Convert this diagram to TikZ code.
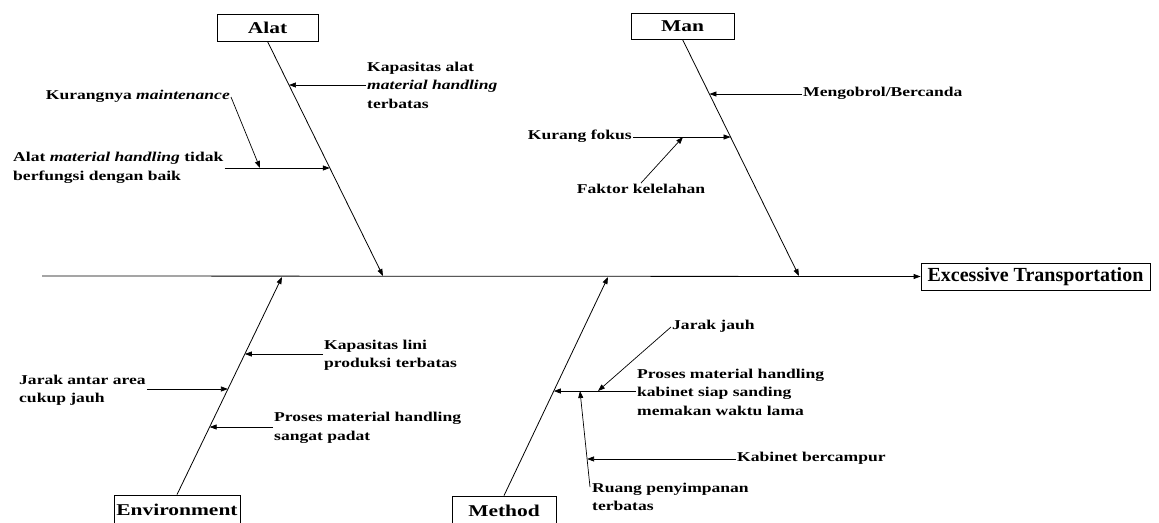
\documentclass[tikz,border=0pt]{standalone}
\usepackage{fontspec}
\setmainfont{Liberation Serif}
\newfontfamily\fishfont{Liberation Serif}[FakeStretch=1.3]
\usetikzlibrary{arrows.meta,calc}
\tikzset{
  fish/box/.style={
    draw,
    line width=0.8pt,
    inner sep=0pt,
    align=center,
    font=\fishfont\bfseries\fontsize{16.5}{19}\selectfont
  },
  fish/head/.style={
    draw,
    line width=0.8pt,
    minimum width=229pt,
    minimum height=27pt,
    inner sep=0pt,
    font=\bfseries\fontsize{20}{22}\selectfont
  },
  fish/label/.style={
    align=left,
    inner sep=1pt,
    font=\fishfont\bfseries\fontsize{13.5}{18.5}\selectfont
  },
  fish/bone/.style={-{Triangle[length=7pt,width=5pt]}, line width=0.8pt},
  fish/arrow/.style={-{Triangle[length=7pt,width=5pt]}, line width=0.7pt}
}

\begin{document}
\begin{tikzpicture}[x=1pt,y=-1pt]
  \useasboundingbox (0,0) rectangle (1159,522);
  % category boxes and effect
  \node[fish/box,minimum width=101pt,minimum height=27pt] (alat) at (267.5,27.5) {Alat};
  \node[fish/box,minimum width=103pt,minimum height=26pt] (man) at (682.5,26) {Man};
  \node[fish/box,minimum width=126pt,minimum height=30pt] (env) at (177,510) {Environment};
  \node[fish/box,minimum width=104pt,minimum height=30pt] (method) at (504,511) {Method};
  \node[fish/head] (exc) at (1035.5,276.5) {Excessive Transportation};
  % spine and bones
  \coordinate (tail) at (42,276);
  \coordinate (sA) at (383,276);
  \coordinate (sM) at (799,276);
  \coordinate (sE) at (282,277);
  \coordinate (sMe) at (608,277);
  \draw[fish/bone] (tail) -- (exc.west);
  \draw[fish/bone] (alat.south) -- (sA);
  \draw[fish/bone] (man.south) -- (sM);
  \draw[fish/bone] (env.north) -- (sE);
  \draw[fish/bone] (method.north) -- (sMe);
  % Alat
  \node[fish/label,anchor=west] (kapAlat) at (366,85) {Kapasitas alat\\\textit{material handling}\\terbatas};
  \node[fish/label,anchor=mid east] (kurMaint) at (231,97) {Kurangnya \textit{maintenance}};
  \node[fish/label,anchor=west] (alatFungsi) at (12,168) {Alat \textit{material handling} tidak\\berfungsi dengan baik};
  \coordinate (a1) at (intersection of alat.south--sA and 0,85--10,85);
  \coordinate (a2) at (intersection of alat.south--sA and 0,168--10,168);
  \coordinate (m1) at (260,168);
  \draw[fish/arrow] (a1 -| kapAlat.west) -- (a1);
  \draw[fish/arrow] (a2 -| alatFungsi.east) -- (a2);
  \draw[fish/arrow] (kurMaint.mid east) -- (m1);
  % Man
  \node[fish/label,anchor=mid west] (ngobrol) at (802,94) {Mengobrol/Bercanda};
  \node[fish/label,anchor=mid east] (fokus) at (633,137) {Kurang fokus};
  \node[fish/label] (lelah) at (641,189) {Faktor kelelahan};
  \coordinate (b1) at (intersection of man.south--sM and 0,94--10,94);
  \coordinate (b2) at (intersection of man.south--sM and 0,137--10,137);
  \coordinate (f1) at (683,137);
  \draw[fish/arrow] (b1 -| ngobrol.mid west) -- (b1);
  \draw[fish/arrow] (b2 -| fokus.mid east) -- (b2);
  \draw[fish/arrow] (lelah.north) -- (f1);
  % Environment
  \node[fish/label,anchor=west] (kapLini) at (323,355) {Kapasitas lini\\produksi terbatas};
  \node[fish/label,anchor=west] (jarakArea) at (18,390) {Jarak antar area\\cukup jauh};
  \node[fish/label,anchor=west] (prosPadat) at (273,428) {Proses material handling\\sangat padat};
  \coordinate (e1) at (intersection of env.north--sE and 0,354--10,354);
  \coordinate (e2) at (intersection of env.north--sE and 0,389--10,389);
  \coordinate (e3) at (intersection of env.north--sE and 0,427--10,427);
  \draw[fish/arrow] (e1 -| kapLini.west) -- (e1);
  \draw[fish/arrow] (e2 -| jarakArea.east) -- (e2);
  \draw[fish/arrow] (e3 -| prosPadat.west) -- (e3);
  % Method
  \node[fish/label,anchor=mid west] (jarakJauh) at (671,327) {Jarak jauh};
  \node[fish/label,anchor=west] (prosKab) at (636,392) {Proses material handling\\kabinet siap sanding\\memakan waktu lama};
  \node[fish/label,anchor=mid west] (campur) at (736,459) {Kabinet bercampur};
  \node[fish/label,anchor=west] (ruang) at (591,497) {Ruang penyimpanan\\terbatas};
  \coordinate (d1) at (intersection of method.north--sMe and 0,391--10,391);
  \coordinate (j1) at (598,391);
  \coordinate (r0) at (590,487);
  \coordinate (r1) at (580,391);
  \coordinate (d2) at (intersection of r0--r1 and 0,459--10,459);
  \draw[fish/arrow] (d1 -| prosKab.west) -- (d1);
  \draw[fish/arrow] (jarakJauh.mid west) -- (j1);
  \draw[fish/arrow] (r0) -- (r1);
  \draw[fish/arrow] (d2 -| campur.mid west) -- (d2);
\end{tikzpicture}
\end{document}
